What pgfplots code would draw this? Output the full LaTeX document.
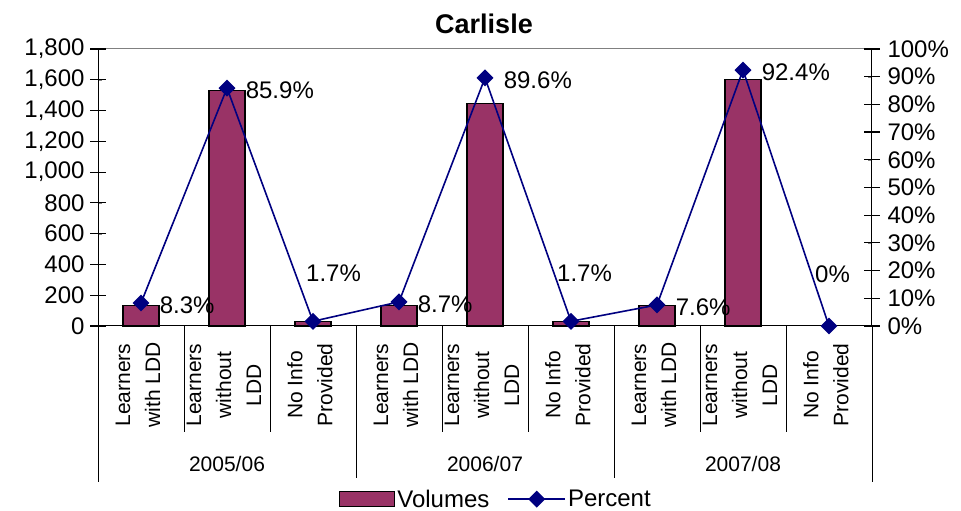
\documentclass[border=0pt]{standalone}
\usepackage{fontspec}
\setmainfont{Liberation Sans}
\usepackage{pgfplots}
\pgfplotsset{compat=1.18}
\definecolor{barpurple}{RGB}{153,51,102}
\definecolor{navyline}{RGB}{0,0,128}
\newcommand{\lblfont}{\fontsize{24}{28}\selectfont}
\newcommand{\catfont}{\fontsize{21}{30}\selectfont}
\pgfplotsset{
  barleg/.style={legend image code/.code={\draw[##1] (0pt,-7.5pt) rectangle (55pt,7.5pt);}},
  lineleg/.style={legend image code/.code={\draw[mark repeat=2, mark phase=2, ##1] plot coordinates {(0pt,0pt) (28.5pt,0pt) (57pt,0pt)};}},
}
\begin{document}
\begin{tikzpicture}
\useasboundingbox (0pt,0pt) rectangle (961pt,511pt);
\pgfplotsset{
  base/.style={
    at={(98pt,185pt)}, anchor=south west,
    width=774pt, height=277pt, scale only axis,
    xmin=-0.5, xmax=8.5, clip=false,
    /pgf/number format/assume math mode=true,
    tick label style={font=\lblfont},
    axis line style={-, black, line width=1pt},
  }
}
\begin{axis}[base,
  ymin=0, ymax=1800, ytick={0,200,...,1800},
  axis x line*=bottom, axis y line*=left,
  xtick={0,...,8},
  xticklabels={{Learners\\with LDD},{Learners\\without\\LDD},{No Info\\Provided},
               {Learners\\with LDD},{Learners\\without\\LDD},{No Info\\Provided},
               {Learners\\with LDD},{Learners\\without\\LDD},{No Info\\Provided}},
  xtick style={draw=none},
  xticklabel style={yshift=-59pt, xshift=-3pt, rotate=90, align=center, anchor=center, font=\catfont},
  /pgf/number format/1000 sep={,},
  yticklabel style={xshift=-10pt},
]
\addplot[ybar, bar width=36pt, fill=barpurple, draw=black, line width=1.4pt]
  coordinates {(0,135) (1,1530) (2,28) (3,132) (4,1447) (5,28) (6,132) (7,1600)};
\draw[gray, line width=1pt] (rel axis cs:0,1) -- (rel axis cs:1,1);
\pgfplotsinvokeforeach{0.5,1.5,3.5,4.5,6.5,7.5}{
  \draw[line width=0.8pt] (axis cs:#1,0) -- ([yshift=-106pt]axis cs:#1,0);
}
\draw[line width=0.8pt] (axis cs:-0.5,0) -- ([yshift=-156pt]axis cs:-0.5,0);
\draw[line width=0.8pt] (axis cs:2.5,0) -- ([yshift=-152pt]axis cs:2.5,0);
\draw[line width=0.8pt] (axis cs:5.5,0) -- ([yshift=-152pt]axis cs:5.5,0);
\draw[line width=0.8pt] (axis cs:8.5,0) -- ([yshift=-156pt]axis cs:8.5,0);
\node[font=\catfont] at ([yshift=-138pt]axis cs:1,0) {2005/06};
\node[font=\catfont] at ([yshift=-138pt]axis cs:4,0) {2006/07};
\node[font=\catfont] at ([yshift=-138pt]axis cs:7,0) {2007/08};
\end{axis}
\begin{axis}[base,
  ymin=0, ymax=100, ytick={0,10,...,100},
  yticklabel={\pgfmathprintnumber{\tick}\%},
  yticklabel style={xshift=12pt},
  axis y line*=right, axis x line=none, xtick=\empty,
  legend style={at={(0.514,-0.625)}, anchor=center, draw=none, fill=none,
    legend columns=2, font=\fontsize{24}{28}\selectfont,
    /tikz/every even column/.append style={column sep=16pt}},
]
\addlegendimage{fill=barpurple, draw=black, line width=1.4pt, barleg}
\addlegendentry{Volumes}
\addplot[navyline, line width=1.6pt, mark=square*, mark size=5.2pt,
  mark options={rotate=45, solid}, lineleg,
  nodes near coords, point meta=explicit symbolic,
  nodes near coords align=horizontal,
  every node near coord/.append style={anchor=west, inner sep=0pt, xshift=18pt, yshift=-2pt, font=\lblfont, text=black}]
  coordinates {(0,8.3)[8.3\%] (1,85.9)[85.9\%] (2,1.7)[] (3,8.7)[8.7\%] (4,89.6)[89.6\%] (5,1.7)[] (6,7.6)[7.6\%] (7,92.4)[92.4\%] (8,0)[]};
\addlegendentry{Percent}
\node[anchor=west, inner sep=0pt, font=\lblfont, xshift=-7pt, yshift=48pt] at (axis cs:2,1.7) {1.7\%};
\node[anchor=west, inner sep=0pt, font=\lblfont, xshift=-14pt, yshift=48pt] at (axis cs:5,1.7) {1.7\%};
\node[anchor=west, inner sep=0pt, font=\lblfont, xshift=-14pt, yshift=52pt] at (axis cs:8,0) {0\%};
\end{axis}
\foreach \i in {0,...,9} {
  \draw[line width=1.2pt, black] (90pt, 185pt+\i*30.7778pt) -- (106pt, 185pt+\i*30.7778pt);
}
\foreach \i in {0,...,10} {
  \draw[line width=1.2pt, black] (864pt, 185pt+\i*27.7pt) -- (880pt, 185pt+\i*27.7pt);
}
\node[font=\fontsize{27}{32}\selectfont\bfseries, anchor=base] at (484pt,477pt) {Carlisle};
\end{tikzpicture}
\end{document}
